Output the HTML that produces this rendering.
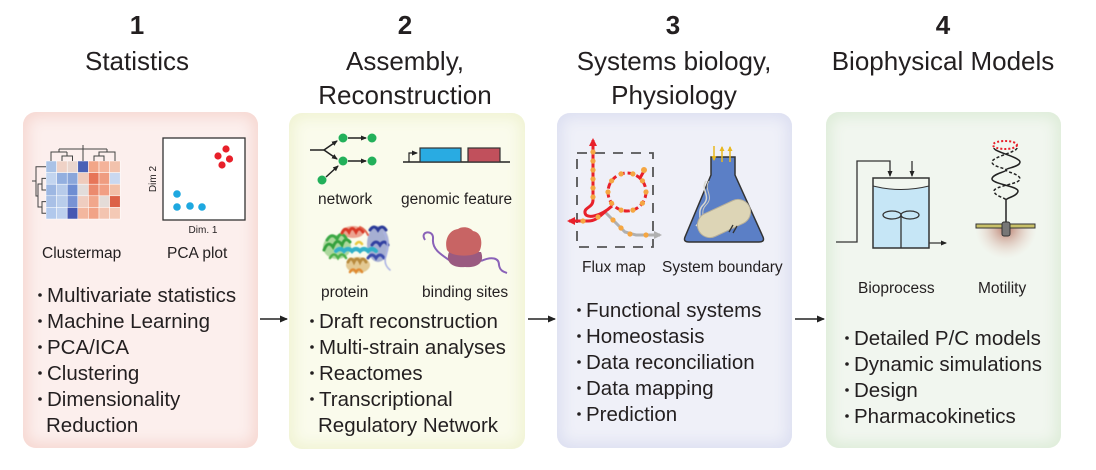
<!DOCTYPE html>
<html><head><meta charset="utf-8">
<style>
html,body{margin:0;padding:0;background:#fff;}
body{width:1096px;height:470px;position:relative;overflow:hidden;font-family:"Liberation Sans",sans-serif;}
.p{position:absolute;border-radius:13px;}
#p1{left:23px;top:112px;width:235px;height:336px;background:#fcefed;box-shadow:inset 0 0 14px 5px #f6d7d1;}
#p2{left:289px;top:113px;width:236px;height:336px;background:#fafbec;box-shadow:inset 0 0 14px 5px #f0f3d3;}
#p3{left:557px;top:113px;width:235px;height:335px;background:#eff0f8;box-shadow:inset 0 0 14px 5px #dcdff1;}
#p4{left:826px;top:112px;width:235px;height:336px;background:#f1f6ef;box-shadow:inset 0 0 14px 5px #ddecd8;}
svg{position:absolute;left:0;top:0;}
</style></head><body>
<div class="p" id="p1"></div><div class="p" id="p2"></div><div class="p" id="p3"></div><div class="p" id="p4"></div>
<svg width="1096" height="470" viewBox="0 0 1096 470" xmlns="http://www.w3.org/2000/svg" font-family="Liberation Sans, sans-serif" fill="#231f20">
<defs>
<marker id="ah" markerWidth="8" markerHeight="8" refX="7" refY="4" orient="auto" markerUnits="userSpaceOnUse"><path d="M0,0.5 L8,4 L0,7.5 Z" fill="#222"/></marker>
<marker id="ahs" markerWidth="6" markerHeight="6" refX="5" refY="3" orient="auto" markerUnits="userSpaceOnUse"><path d="M0,0.5 L6,3 L0,5.5 Z" fill="#222"/></marker>
<marker id="ahr" markerWidth="8" markerHeight="8" refX="6" refY="4" orient="auto" markerUnits="userSpaceOnUse"><path d="M0,0 L8,4 L0,8 Z" fill="#e8202a"/></marker>
<marker id="ahg" markerWidth="8" markerHeight="8" refX="6" refY="4" orient="auto" markerUnits="userSpaceOnUse"><path d="M0,0 L8,4 L0,8 Z" fill="#b0b0b0"/></marker>
<marker id="ahy" markerWidth="5" markerHeight="5" refX="4" refY="2.5" orient="auto" markerUnits="userSpaceOnUse"><path d="M0,0 L5,2.5 L0,5 Z" fill="#e8b820"/></marker>
<radialGradient id="brown" cx="1006" cy="228" r="31" gradientUnits="userSpaceOnUse"><stop offset="0" stop-color="#b06a58" stop-opacity="0.9"/><stop offset="1" stop-color="#e8cfc4" stop-opacity="0"/></radialGradient>
<filter id="soft"><feGaussianBlur stdDeviation="0.6"/></filter>
</defs>

<!-- Headings -->
<g font-size="26" text-anchor="middle">
<text x="137" y="34" font-weight="bold">1</text>
<text x="137" y="70">Statistics</text>
<text x="405" y="34" font-weight="bold">2</text>
<text x="405" y="70">Assembly,</text>
<text x="405" y="104">Reconstruction</text>
<text x="673" y="34" font-weight="bold">3</text>
<text x="674" y="70">Systems biology,</text>
<text x="674" y="104">Physiology</text>
<text x="943" y="34" font-weight="bold">4</text>
<text x="943" y="70">Biophysical Models</text>
</g>

<!-- Panel 1 icons: heatmap -->
<g stroke="#fff" stroke-width="0.5">
<rect x="46" y="161" width="10.6" height="11.6" fill="#a9c2e6"/><rect x="56.6" y="161" width="10.6" height="11.6" fill="#efd2c6"/><rect x="67.2" y="161" width="10.6" height="11.6" fill="#e9d6ce"/><rect x="77.8" y="161" width="10.6" height="11.6" fill="#4a62b6"/><rect x="88.4" y="161" width="10.6" height="11.6" fill="#f2a688"/><rect x="99" y="161" width="10.6" height="11.6" fill="#f4b39a"/><rect x="109.6" y="161" width="10.6" height="11.6" fill="#f2c2ac"/>
<rect x="46" y="172.6" width="10.6" height="11.6" fill="#c3d5ef"/><rect x="56.6" y="172.6" width="10.6" height="11.6" fill="#93afdf"/><rect x="67.2" y="172.6" width="10.6" height="11.6" fill="#8aa6da"/><rect x="77.8" y="172.6" width="10.6" height="11.6" fill="#efcbbc"/><rect x="88.4" y="172.6" width="10.6" height="11.6" fill="#e77558"/><rect x="99" y="172.6" width="10.6" height="11.6" fill="#ef9c80"/><rect x="109.6" y="172.6" width="10.6" height="11.6" fill="#c9d8f0"/>
<rect x="46" y="184.2" width="10.6" height="11.6" fill="#9db7e2"/><rect x="56.6" y="184.2" width="10.6" height="11.6" fill="#b7cbea"/><rect x="67.2" y="184.2" width="10.6" height="11.6" fill="#6e8dd2"/><rect x="77.8" y="184.2" width="10.6" height="11.6" fill="#e2dcda"/><rect x="88.4" y="184.2" width="10.6" height="11.6" fill="#eb8a6e"/><rect x="99" y="184.2" width="10.6" height="11.6" fill="#f19f84"/><rect x="109.6" y="184.2" width="10.6" height="11.6" fill="#f2c0a8"/>
<rect x="46" y="195.8" width="10.6" height="11.6" fill="#a9c0e6"/><rect x="56.6" y="195.8" width="10.6" height="11.6" fill="#b9cdeb"/><rect x="67.2" y="195.8" width="10.6" height="11.6" fill="#7892d4"/><rect x="77.8" y="195.8" width="10.6" height="11.6" fill="#efcdc0"/><rect x="88.4" y="195.8" width="10.6" height="11.6" fill="#f1a78c"/><rect x="99" y="195.8" width="10.6" height="11.6" fill="#e4dcd8"/><rect x="109.6" y="195.8" width="10.6" height="11.6" fill="#dc6247"/>
<rect x="46" y="207.4" width="10.6" height="11.6" fill="#b1c8ec"/><rect x="56.6" y="207.4" width="10.6" height="11.6" fill="#bdd0ee"/><rect x="67.2" y="207.4" width="10.6" height="11.6" fill="#4658b2"/><rect x="77.8" y="207.4" width="10.6" height="11.6" fill="#f3b79f"/><rect x="88.4" y="207.4" width="10.6" height="11.6" fill="#f1a387"/><rect x="99" y="207.4" width="10.6" height="11.6" fill="#f3c4b0"/><rect x="109.6" y="207.4" width="10.6" height="11.6" fill="#f4c9b5"/>
</g>
<g stroke="#444" stroke-width="1" fill="none">
<path d="M62,161 V156 H72.5 V161 M67,156 V152 M51,161 V152 H67 M59,152 V149 M94,161 V156 H104 V161 M99,156 V152 H115 V161 M107,152 V149 M59,149 H107 M83,161 V149 M83,149 V145"/>
<path d="M46,178.4 H42 V190 H46 M46,201.6 H42 V213.2 H46 M42,184 H38 V207 H42 M46,166.8 H36 V196 H38 M36,181 H32"/>
</g>
<!-- PCA -->
<rect x="163" y="138" width="82" height="82" fill="#fff" stroke="#333" stroke-width="1.3"/>
<g fill="#e8202a"><circle cx="218" cy="156" r="3.6"/><circle cx="226" cy="149" r="3.6"/><circle cx="229.5" cy="159" r="3.6"/><circle cx="222" cy="165" r="3.6"/></g>
<g fill="#1ea8e0"><circle cx="177" cy="194" r="3.8"/><circle cx="177" cy="207" r="3.8"/><circle cx="190" cy="206" r="3.8"/><circle cx="202" cy="207" r="3.8"/></g>
<text x="0" y="0" font-size="10" text-anchor="middle" transform="translate(156,179) rotate(-90)">Dim 2</text>
<text x="203" y="233" font-size="10" text-anchor="middle">Dim. 1</text>
<g font-size="15.5"><text x="42" y="258">Clustermap</text><text x="167" y="258">PCA plot</text></g>

<!-- Panel 1 list -->
<g fill="#231f20">
<circle cx="40" cy="295" r="1.8"/><circle cx="40" cy="321" r="1.8"/><circle cx="40" cy="347" r="1.8"/><circle cx="40" cy="373" r="1.8"/><circle cx="40" cy="399" r="1.8"/>
</g>
<g font-size="20.5">
<text x="47" y="302">Multivariate statistics</text>
<text x="47" y="328">Machine Learning</text>
<text x="47" y="354">PCA/ICA</text>
<text x="47" y="380">Clustering</text>
<text x="47" y="406">Dimensionality</text>
<text x="46" y="432">Reduction</text>
</g>

<!-- Panel 2 icons: network -->
<g stroke="#222" stroke-width="1.5" fill="none">
<path d="M310,150 H324"/>
<path d="M324,150 L337,141" marker-end="url(#ahs)"/>
<path d="M324,150 L337,159" marker-end="url(#ahs)"/>
<path d="M348,138 H366" marker-end="url(#ahs)"/>
<path d="M348,161 H366" marker-end="url(#ahs)"/>
<path d="M326,177 L338,166" marker-end="url(#ahs)"/>
</g>
<g fill="#22b05a"><circle cx="343" cy="138" r="4.5"/><circle cx="372" cy="138" r="4.5"/><circle cx="343" cy="161" r="4.5"/><circle cx="372" cy="161" r="4.5"/><circle cx="322" cy="180" r="4.5"/></g>
<!-- genomic -->
<path d="M403,162 H510" stroke="#222" stroke-width="1.5"/>
<path d="M409,162 V153 H417" stroke="#222" stroke-width="1.2" fill="none" marker-end="url(#ahs)"/>
<rect x="420" y="148" width="41" height="14" fill="#29abe2" stroke="#333" stroke-width="1.2"/>
<rect x="468" y="148" width="32" height="14" fill="#c1505c" stroke="#333" stroke-width="1.2"/>
<g font-size="15.5"><text x="318" y="204">network</text><text x="401" y="204">genomic feature</text></g>
<!-- protein -->
<g filter="url(#soft)" fill="none" stroke-linecap="round">
<ellipse cx="337" cy="247" rx="14" ry="12" fill="#6cbc5c" opacity="0.55" stroke="none"/>
<ellipse cx="378" cy="244" rx="11" ry="18" fill="#5464b8" opacity="0.5" stroke="none"/>
<ellipse cx="353" cy="232" rx="11" ry="6" fill="#e05a44" opacity="0.55" stroke="none"/>
<ellipse cx="358" cy="265" rx="12" ry="8" fill="#d4a656" opacity="0.6" stroke="none"/>
<path d="M324,250 q4,-10 9,-3 q4,-10 9,-2 q3,-9 8,-3" stroke="#34a03c" stroke-width="3"/>
<path d="M327,240 q5,-8 10,-1 q4,-9 9,-1" stroke="#3aa845" stroke-width="3"/>
<path d="M330,258 q4,-7 8,0 q4,-7 8,0" stroke="#4cb048" stroke-width="2.5"/>
<path d="M342,233 q3,-7 7,-1 q3,-7 7,0 q3,-6 7,0" stroke="#d83828" stroke-width="3"/>
<path d="M360,227 q5,2 8,8" stroke="#e06048" stroke-width="2"/>
<path d="M370,230 q4,-6 8,0 q4,-6 8,0" stroke="#2a3a98" stroke-width="3"/>
<path d="M372,245 q4,-6 8,0 q4,-6 8,0" stroke="#3040a0" stroke-width="3"/>
<path d="M368,258 q4,-6 8,0 q4,-6 8,0" stroke="#3a4cac" stroke-width="3"/>
<path d="M384,232 q6,10 2,24 q-3,8 4,14" stroke="#a8b0e4" stroke-width="1.5"/>
<path d="M336,251 q4,-4 8,0 q4,-4 8,0 q4,-4 8,0 q4,-4 8,0 q4,-4 8,0" stroke="#30b0c8" stroke-width="4"/>
<path d="M348,262 q3,-6 6,0 q3,-6 6,0 q3,-6 6,0" stroke="#b88a3c" stroke-width="3"/>
<path d="M350,272 q3,-5 6,0 q3,-5 6,0" stroke="#e08a30" stroke-width="2.5"/>
<path d="M356,244 q3,-4 6,0" stroke="#e8c840" stroke-width="2.5"/>
</g>
<!-- binding sites -->
<path d="M425,240 C419,231 434,229 433,239 C432,249 440,254 452,262 M481,261 C492,256 499,258 499,265 C500,271 504,272 507,273" stroke="#8a62b8" stroke-width="2" fill="none"/>
<path d="M449,252 C445,262 452,268 465,267 C478,268 485,262 481,252 Z" fill="#9a5a80"/>
<path d="M447,250 C444,240 449,230 458,229 C462,226 470,227 473,231 C481,232 483,242 480,250 C478,257 452,258 447,250 Z" fill="#c86464"/>
<g font-size="15.5"><text x="321" y="297">protein</text><text x="422" y="297">binding sites</text></g>

<!-- Panel 2 list -->
<g fill="#231f20">
<circle cx="312" cy="321" r="1.8"/><circle cx="312" cy="347" r="1.8"/><circle cx="312" cy="373" r="1.8"/><circle cx="312" cy="399" r="1.8"/>
</g>
<g font-size="20.5">
<text x="319" y="328">Draft reconstruction</text>
<text x="319" y="354">Multi-strain analyses</text>
<text x="319" y="380">Reactomes</text>
<text x="319" y="406">Transcriptional</text>
<text x="318" y="432">Regulatory Network</text>
</g>

<!-- Panel 3 icons: flux map -->
<rect x="577" y="153" width="76" height="94" fill="none" stroke="#555" stroke-width="1.8" stroke-dasharray="10,8"/>
<path d="M605,212 L625,232 L636,235 H660" stroke="#b0b0b0" stroke-width="3" fill="none" marker-end="url(#ahg)"/>
<path d="M593,200 V140" stroke="#e8202a" stroke-width="3" fill="none" marker-end="url(#ahr)"/>
<path d="M593,200 C593,208 584,207 585,213 C586,219 600,217 612,206" stroke="#e8202a" stroke-width="3" fill="none"/>
<path d="M606,211 C600,216 596,221 588,221 H569" stroke="#e8202a" stroke-width="3" fill="none" marker-end="url(#ahr)"/>
<circle cx="627" cy="192" r="19" fill="none" stroke="#e8202a" stroke-width="3" stroke-dasharray="6,3"/>
<path d="M640,178 L644,171" stroke="#e8202a" stroke-width="3"/>
<g fill="#f5a642">
<circle cx="593" cy="152" r="2.6"/><circle cx="593" cy="161" r="2.6"/><circle cx="593" cy="170" r="2.6"/><circle cx="593" cy="179" r="2.6"/><circle cx="593" cy="188" r="2.6"/><circle cx="593" cy="197" r="2.6"/>
<circle cx="646" cy="192" r="2.6"/><circle cx="642.4" cy="203.2" r="2.6"/><circle cx="632.9" cy="210.1" r="2.6"/><circle cx="621.1" cy="210.1" r="2.6"/><circle cx="611.6" cy="203.2" r="2.6"/><circle cx="608" cy="192" r="2.6"/><circle cx="611.6" cy="180.8" r="2.6"/><circle cx="621.1" cy="173.9" r="2.6"/><circle cx="632.9" cy="173.9" r="2.6"/><circle cx="642.4" cy="180.8" r="2.6"/>
<circle cx="644" cy="170" r="3"/>
<circle cx="598" cy="217" r="2.6"/><circle cx="583" cy="221" r="2.6"/>
<circle cx="613" cy="220" r="2.6"/><circle cx="621" cy="228" r="2.6"/><circle cx="630" cy="234" r="2.6"/><circle cx="646" cy="235" r="2.6"/>
</g>
<!-- flask -->
<path d="M711,157 H735 V175 L763,237 Q765,242 759,242 H689 Q683,242 685,237 L711,175 Z" fill="#5b7fc6" stroke="#333" stroke-width="1.5"/>
<path d="M706,181 C700,190 712,196 703,205 C696,212 704,218 696,226" stroke="#d8d8d0" stroke-width="1.5" fill="none"/>
<path d="M709,181 C703,190 715,196 706,205 C699,212 707,218 699,226" stroke="#c8c8c0" stroke-width="1" fill="none"/>
<rect x="696" y="206" width="56" height="25" rx="12.5" fill="#ddd5b6" stroke="#b8b09a" stroke-width="1" transform="rotate(-25 724 218.5)"/>
<path d="M729,232 L733,225 M733,233 L737,226" stroke="#333" stroke-width="1.3"/>
<g stroke="#e8b820" stroke-width="1.5">
<path d="M714,146 V160" marker-end="url(#ahy)"/>
<path d="M722,162 V147" marker-end="url(#ahy)"/>
<path d="M730,162 V147" marker-end="url(#ahy)"/>
</g>
<g font-size="15.5"><text x="582" y="272">Flux map</text><text x="662" y="272">System boundary</text></g>

<!-- Panel 3 list -->
<g fill="#231f20">
<circle cx="579" cy="310" r="1.8"/><circle cx="579" cy="336" r="1.8"/><circle cx="579" cy="362" r="1.8"/><circle cx="579" cy="388" r="1.8"/><circle cx="579" cy="414" r="1.8"/>
</g>
<g font-size="20.5">
<text x="586" y="317">Functional systems</text>
<text x="586" y="343">Homeostasis</text>
<text x="586" y="369">Data reconciliation</text>
<text x="586" y="395">Data mapping</text>
<text x="586" y="421">Prediction</text>
</g>

<!-- Panel 4 icons: bioprocess -->
<path d="M873,186 Q901,193 929,186 V248 H873 Z" fill="#c6e6f6"/>
<rect x="873" y="178" width="56" height="70" fill="none" stroke="#333" stroke-width="1.5"/>
<path d="M873,186 Q901,193 929,186" stroke="#333" stroke-width="1" fill="none"/>
<g stroke="#333" stroke-width="1.3" fill="none">
<path d="M836,242 H857 V161 H890 V176" marker-end="url(#ahs)"/>
<path d="M912,161 V176" marker-end="url(#ahs)"/>
<path d="M929,243 H946" marker-end="url(#ahs)"/>
<path d="M901,215 V248"/>
<ellipse cx="892" cy="215" rx="9" ry="4"/>
<ellipse cx="910" cy="215" rx="9" ry="4"/>
</g>
<!-- motility -->
<path d="M975,228 A31,31 0 0 0 1037,228 Z" fill="url(#brown)"/>
<ellipse cx="1005" cy="145" rx="12" ry="4" fill="none" stroke="#e8202a" stroke-width="2" stroke-dasharray="2,2"/>
<g fill="none" stroke="#222" stroke-width="1.5">
<path d="M994,148 C994,152 1020,157 1020,162 C1020,167 1006,168 1006,170 C1006,172 992,174 992,179 C992,184 1018,186 1018,191 C1018,196 1006,198 1006,200"/>
<path d="M1017,148 C1017,152 992,157 992,162 C992,167 1006,168 1006,170 C1006,172 1020,174 1020,179 C1020,184 994,186 994,191 C994,196 1006,198 1006,200" stroke-dasharray="3,2"/>
<path d="M1006,200 V224"/>
</g>
<rect x="976" y="224" width="59" height="4" fill="#c8c068" stroke="#333" stroke-width="1"/>
<rect x="1002" y="222" width="8" height="14" rx="2" fill="#777" stroke="#333" stroke-width="1"/>
<g font-size="15.5"><text x="858" y="293">Bioprocess</text><text x="978" y="293">Motility</text></g>

<!-- Panel 4 list -->
<g fill="#231f20">
<circle cx="847" cy="338" r="1.8"/><circle cx="847" cy="364" r="1.8"/><circle cx="847" cy="390" r="1.8"/><circle cx="847" cy="416" r="1.8"/>
</g>
<g font-size="20.5">
<text x="854" y="345">Detailed P/C models</text>
<text x="854" y="371">Dynamic simulations</text>
<text x="854" y="397">Design</text>
<text x="854" y="423">Pharmacokinetics</text>
</g>

<!-- connector arrows -->
<g stroke="#222" stroke-width="1.5" fill="none">
<path d="M260,319 H287" marker-end="url(#ah)"/>
<path d="M528,319 H555" marker-end="url(#ah)"/>
<path d="M795,319 H824" marker-end="url(#ah)"/>
</g>
</svg>
</body></html>
